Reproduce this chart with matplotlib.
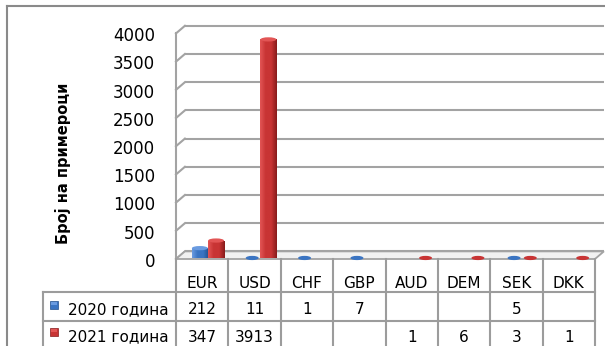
import matplotlib
matplotlib.use("Agg")
import matplotlib.pyplot as plt
import matplotlib.transforms as mtransforms
from matplotlib.patches import Rectangle, Ellipse, Polygon
from matplotlib.colors import LinearSegmentedColormap
from matplotlib.lines import Line2D
import numpy as np

# Number of samples per currency, by year (None = empty cell)
currencies = ["EUR", "USD", "CHF", "GBP", "AUD", "DEM", "SEK", "DKK"]
series_names = ["2020 година", "2021 година"]
counts_2020 = [212, 11, 1, 7, None, None, 5, None]
counts_2021 = [347, 3913, None, None, 1, 6, 3, 1]
y_ticks = [0, 500, 1000, 1500, 2000, 2500, 3000, 3500, 4000]
y_label = "Број на примероци"

W, H, DPI = 605, 346, 100
GRID = "#a3a3a3"
TABLE_LINE = "#9c9c9c"
BORDER = "#8a8a8a"
PALETTES = [
    ("#6a9be0", "#3a74c2", "#22508c"),   # blue: light, mid, dark
    ("#e25555", "#c83434", "#871b1b"),   # red
]

# 3D look: how far the back wall sits behind the front plane (data units)
DEPTH_X, DEPTH_Y = 0.17, 135
BAR_DX, BAR_DY = 0.11, 18
BAR_W = 0.31
CAP_H = 75

plt.rcParams["font.family"] = ["DejaVu Sans"]

fig = plt.figure(figsize=(W / DPI, H / DPI), dpi=DPI)
fig.patch.set_facecolor("white")


def px_box(left, top, right, bottom):
    """Pixel box (from the top-left corner) -> figure fraction rect."""
    return [left / W, 1 - bottom / H, (right - left) / W, (bottom - top) / H]


def fy(px):
    return 1 - px / H


ax = fig.add_axes(px_box(176, 33.4, 595, 259))
ax.axis("off")
n = len(currencies)
x_left, x_right = -0.5, n - 0.5

# back wall gridlines + left wall
for v in y_ticks:
    ax.plot([x_left + DEPTH_X, x_right + DEPTH_X], [v + DEPTH_Y, v + DEPTH_Y],
            color=GRID, lw=1.5, solid_capstyle="butt", clip_on=False, zorder=1)
    ax.plot([x_left, x_left + DEPTH_X], [v, v + DEPTH_Y],
            color=GRID, lw=1.5, clip_on=False, zorder=1)
ax.plot([x_left, x_left], [0, y_ticks[-1]], color=GRID, lw=1.5,
        clip_on=False, zorder=1)

# floor
floor = Polygon([(x_left, 0), (x_right, 0), (x_right + DEPTH_X, DEPTH_Y),
                 (x_left + DEPTH_X, DEPTH_Y)], closed=True,
                facecolor="#f1f1f1", edgecolor=GRID, lw=1.3, zorder=2,
                clip_on=False)
ax.add_patch(floor)


def draw_bar(x, value, colors):
    light, mid, dark = colors
    x0 = x - BAR_W / 2 + BAR_DX
    top = max(value - CAP_H / 2, 0)
    cmap = LinearSegmentedColormap.from_list("shade", [light, mid, mid, dark])
    if top > 0:
        rect = Rectangle((x0, BAR_DY), BAR_W, top, facecolor=mid,
                         edgecolor="none", zorder=4, clip_on=False)
        ax.add_patch(rect)
        grad = np.linspace(0, 1, 64).reshape(1, -1)
        im = ax.imshow(grad, cmap=cmap, extent=(x0, x0 + BAR_W, BAR_DY, BAR_DY + top),
                       aspect="auto", interpolation="bilinear", zorder=4.1)
        im.set_clip_path(rect)
    cap = Ellipse((x0 + BAR_W / 2, BAR_DY + top), BAR_W * (0.98 if top > 0 else 0.8),
                  CAP_H, facecolor=light if top > 0 else mid,
                  edgecolor="none", zorder=4.2, clip_on=False)
    ax.add_patch(cap)


for k, series in enumerate([counts_2020, counts_2021]):
    offset = -BAR_W / 2 if k == 0 else BAR_W / 2
    for i, v in enumerate(series):
        if v is not None:
            draw_bar(i + offset, v, PALETTES[k])

ax.set_xlim(x_left, x_right)
ax.set_ylim(0, y_ticks[-1])

# value axis labels
for v in y_ticks:
    ax.annotate(str(v), xy=(x_left, v), xytext=(-15, -2), textcoords="offset points",
                ha="right", va="center", fontsize=12, color="black",
                annotation_clip=False)

fig.text(63 / W, fy(163), y_label, rotation=90, ha="center", va="center",
         fontsize=10.5, fontweight="bold")

# data table under the chart
tbl = mtransforms.blended_transform_factory(ax.transData, fig.transFigure)
row_edges = [259, 291.7, 320.7, 352]
baselines = [287.5, 314, 341.5]
legend_left = 43

for i in range(n + 1):
    ax.plot([i - 0.5, i - 0.5], [fy(row_edges[0]), fy(row_edges[-1])],
            transform=tbl, color=TABLE_LINE, lw=1.5, clip_on=False)
for y in row_edges[1:3]:
    fig.add_artist(Line2D([legend_left / W, 595 / W], [fy(y), fy(y)],
                          color=TABLE_LINE, lw=1.5))
fig.add_artist(Line2D([legend_left / W, legend_left / W],
                      [fy(row_edges[1]), 0], color=TABLE_LINE, lw=1.5))

for i, cur in enumerate(currencies):
    ax.text(i, fy(baselines[0]), cur, transform=tbl, ha="center",
            va="baseline", fontsize=11)
for r, series in enumerate([counts_2020, counts_2021]):
    for i, v in enumerate(series):
        if v is not None:
            ax.text(i, fy(baselines[r + 1]), str(v), transform=tbl,
                    ha="center", va="baseline", fontsize=11)
    light, mid, dark = PALETTES[r]
    sq_top = baselines[r + 1] - 13.5
    fig.add_artist(Rectangle((50 / W, fy(sq_top + 8)), 8 / W, 8 / H,
                             facecolor=mid, edgecolor=dark, lw=0.5))
    fig.add_artist(Rectangle((51 / W, fy(sq_top + 4)), 6 / W, 3 / H,
                             facecolor=light, edgecolor="none"))
    fig.text(68 / W, fy(baselines[r + 1]), series_names[r], ha="left",
             va="baseline", fontsize=11)

# outer chart frame
fig.add_artist(Line2D([7 / W, 7 / W], [0, fy(6)], color=BORDER, lw=1.5))
fig.add_artist(Line2D([7 / W, 1], [fy(6), fy(6)], color=BORDER, lw=1.5))

fig.savefig("out.png", dpi=DPI, facecolor="white")
